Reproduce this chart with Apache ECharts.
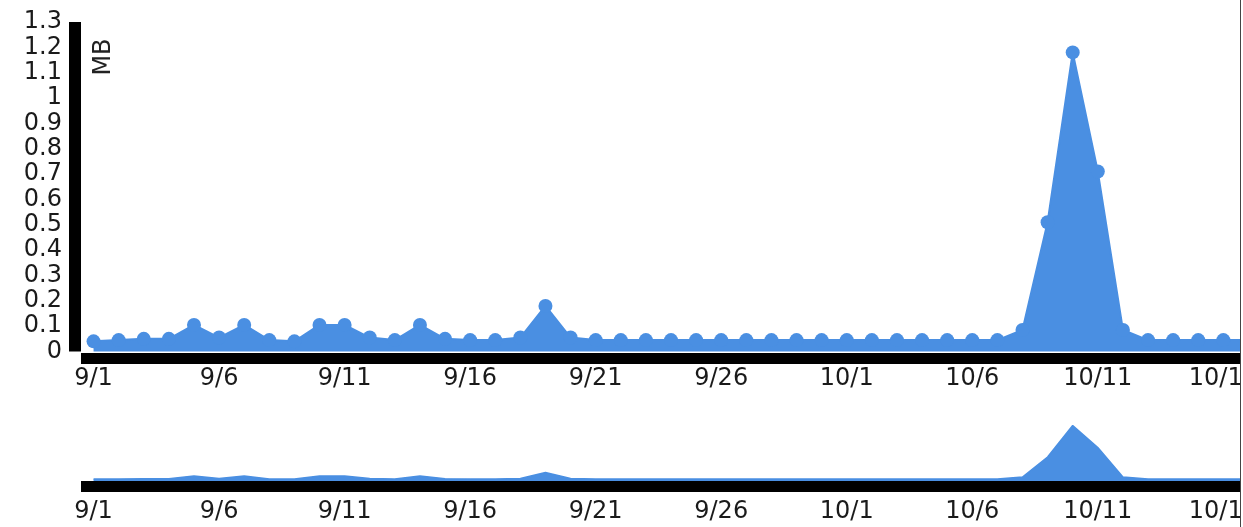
<!DOCTYPE html>
<html>
<head>
<meta charset="utf-8">
<title>MB per day</title>
<script src="https://cdn.jsdelivr.net/npm/echarts@6/dist/echarts.min.js"></script>
<style>
  html, body { margin: 0; padding: 0; background: #fff; }
  #chart { width: 1240px; height: 527px; border-right: 1px solid #444; }
</style>
</head>
<body>
<div id="chart"></div>
<script>
// days shown on the x axis
var days = [
  '9/1', '9/2', '9/3', '9/4', '9/5', '9/6', '9/7', '9/8', '9/9', '9/10',
  '9/11', '9/12', '9/13', '9/14', '9/15', '9/16', '9/17', '9/18', '9/19', '9/20',
  '9/21', '9/22', '9/23', '9/24', '9/25', '9/26', '9/27', '9/28', '9/29', '9/30',
  '10/1', '10/2', '10/3', '10/4', '10/5', '10/6', '10/7', '10/8', '10/9', '10/10',
  '10/11', '10/12', '10/13', '10/14', '10/15', '10/16', '10/17'
];
// traffic in MB for each day
var mb = [
  0.04, 0.045, 0.05, 0.05, 0.105, 0.055, 0.105, 0.045, 0.04, 0.105,
  0.105, 0.055, 0.045, 0.105, 0.05, 0.045, 0.045, 0.055, 0.18, 0.055,
  0.045, 0.045, 0.045, 0.045, 0.045, 0.045, 0.045, 0.045, 0.045, 0.045,
  0.045, 0.045, 0.045, 0.045, 0.045, 0.045, 0.045, 0.085, 0.51, 1.18,
  0.71, 0.085, 0.045, 0.045, 0.045, 0.045, 0.045
];
var yTicks = { min: 0, max: 1.3, step: 0.1 };

var blue = '#4a8fe2';
var font = 'DejaVu Sans';

var chart = echarts.init(document.getElementById('chart'));

var option = {
  animation: false,
  grid: [
    // main chart
    { left: 81, top: 22, width: 1180, height: 329.5, outerBoundsMode: 'none' },
    // small overview underneath
    { left: 81, top: 424.5, width: 1180, height: 56.5, outerBoundsMode: 'none' }
  ],
  graphic: [{
    type: 'text',
    x: 104,
    y: 57,
    rotation: Math.PI / 2,
    style: {
      text: 'MB',
      font: '24px "' + font + '"',
      fill: '#222',
      align: 'center',
      verticalAlign: 'middle'
    }
  }],
  xAxis: [{
    type: 'category',
    gridIndex: 0,
    data: days,
    boundaryGap: true,
    offset: 7,
    axisLine: { onZero: false, lineStyle: { color: '#000', width: 11, cap: 'butt' } },
    axisTick: { show: false },
    axisLabel: {
      interval: 4,
      margin: 8,
      fontSize: 24,
      fontFamily: font,
      color: '#1a1a1a'
    }
  }, {
    type: 'category',
    gridIndex: 1,
    data: days,
    boundaryGap: true,
    offset: 5.5,
    axisLine: { onZero: false, lineStyle: { color: '#000', width: 11, cap: 'butt' } },
    axisTick: { show: false },
    axisLabel: {
      interval: 4,
      margin: 13,
      fontSize: 24,
      fontFamily: font,
      color: '#1a1a1a'
    }
  }],
  yAxis: [{
    type: 'value',
    gridIndex: 0,
    min: yTicks.min,
    max: yTicks.max,
    interval: yTicks.step,
    offset: 6,
    axisLine: { show: true, onZero: false, lineStyle: { color: '#000', width: 12, cap: 'butt' } },
    axisTick: { show: false },
    splitLine: { show: false },
    axisLabel: {
      margin: 13,
      fontSize: 24,
      fontFamily: font,
      color: '#1a1a1a',
      formatter: function (v) { return String(Math.round(v * 10) / 10); }
    }
  }, {
    type: 'value',
    gridIndex: 1,
    min: 0,
    max: 1.2,
    show: false,
    splitLine: { show: false }
  }],
  series: [{
    type: 'line',
    xAxisIndex: 0,
    yAxisIndex: 0,
    data: mb,
    symbol: 'circle',
    symbolSize: 14,
    showAllSymbol: true,
    itemStyle: { color: blue },
    lineStyle: { color: blue, width: 2 },
    areaStyle: { color: blue, opacity: 1 }
  }, {
    type: 'line',
    xAxisIndex: 1,
    yAxisIndex: 1,
    data: mb,
    symbol: 'none',
    lineStyle: { color: blue, width: 1.5 },
    areaStyle: { color: blue, opacity: 1 }
  }]
};

chart.setOption(option);
</script>
</body>
</html>
